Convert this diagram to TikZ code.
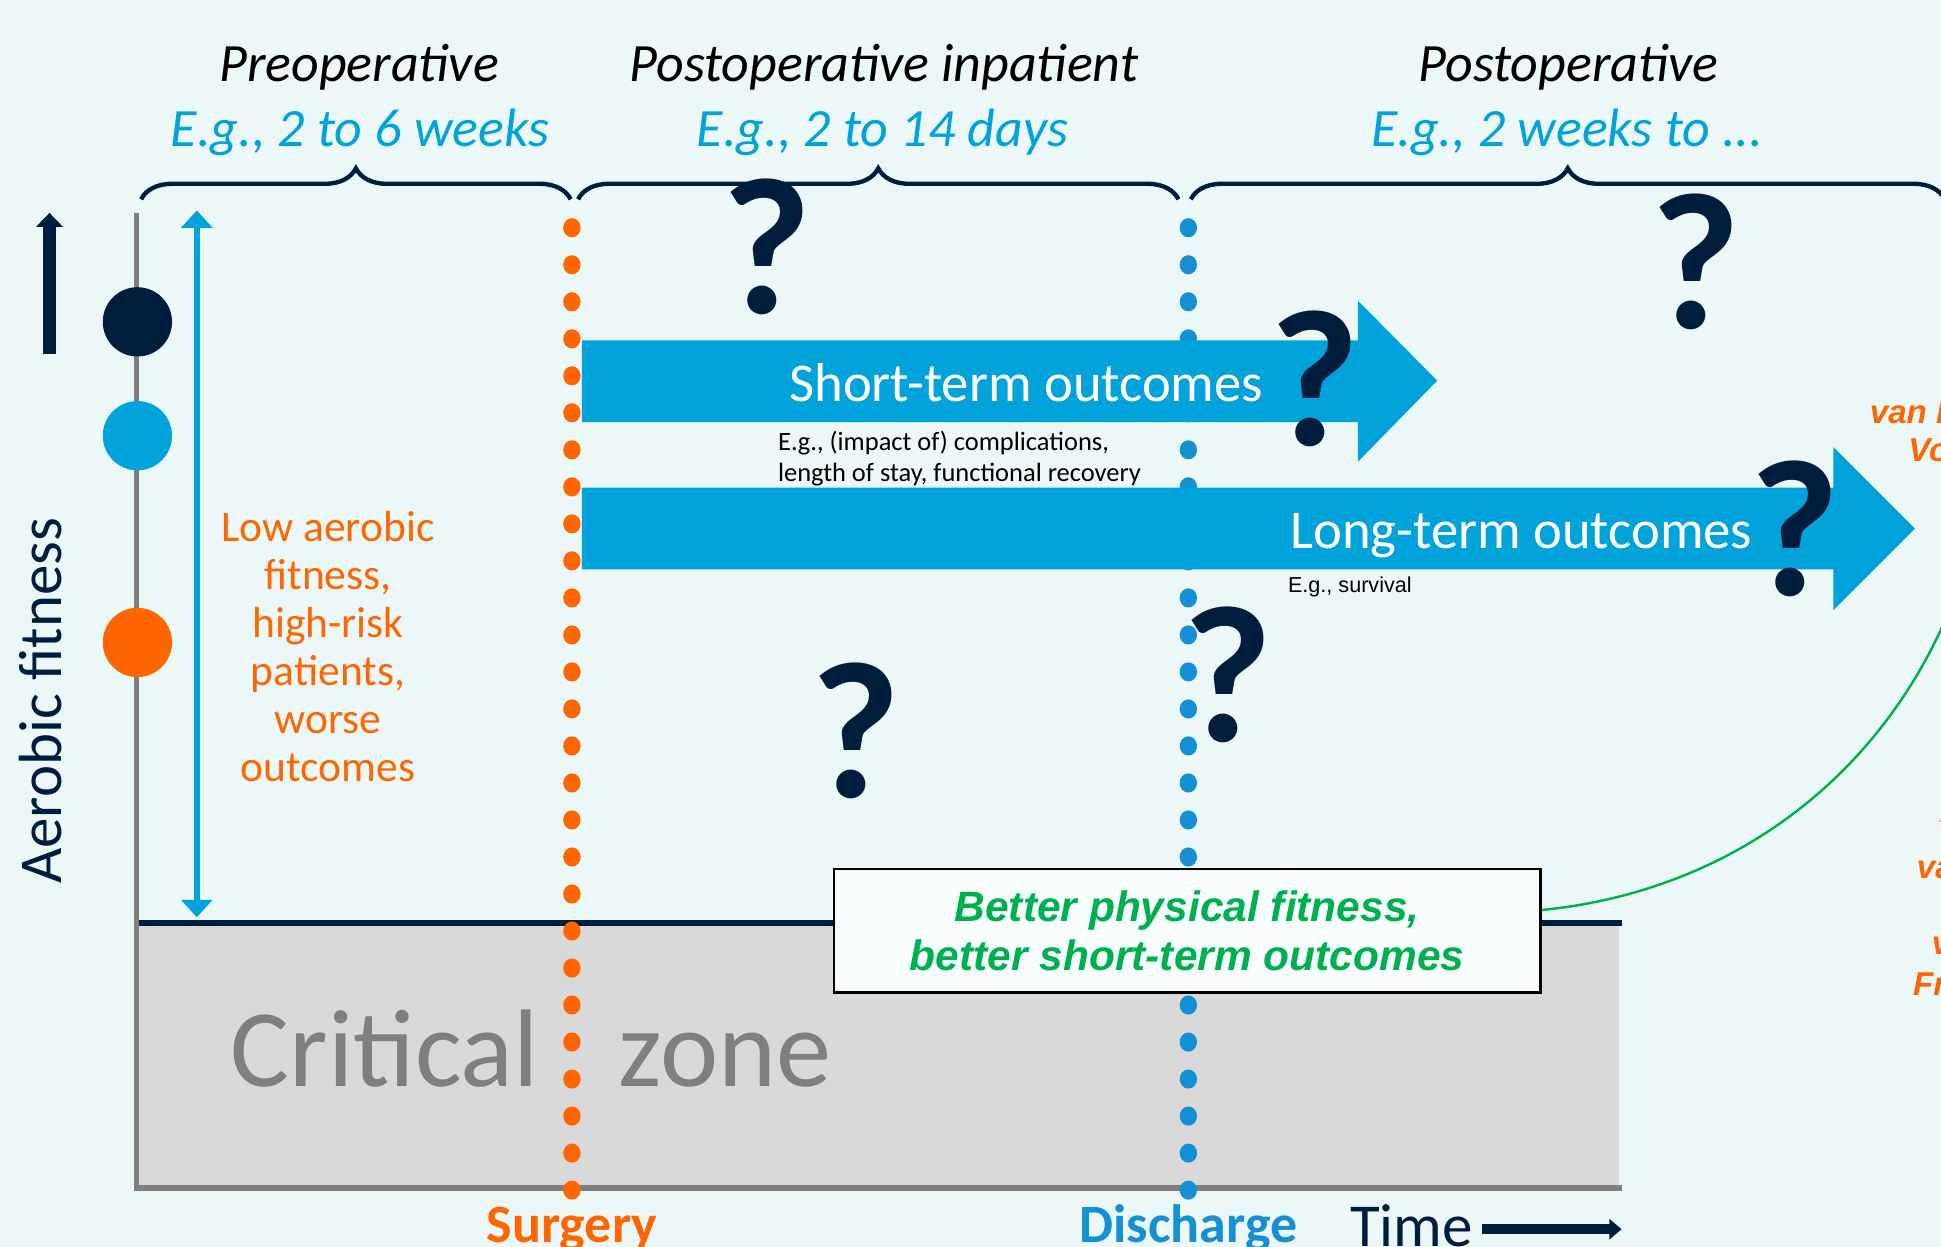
\documentclass[tikz,border=0pt]{standalone}
\usepackage{fontspec}
\setmainfont{Carlito}
\newfontfamily\arialfont{Liberation Sans}
\usetikzlibrary{arrows.meta, decorations.pathreplacing, positioning}

\definecolor{bgmint}{RGB}{236,248,247}
\definecolor{darknavy}{RGB}{0,29,61}
\definecolor{arrowcyan}{RGB}{2,162,218}
\definecolor{dotblue}{RGB}{22,144,213}
\definecolor{fitorange}{RGB}{255,102,0}
\definecolor{zonegray}{RGB}{217,217,217}
\definecolor{axisgray}{RGB}{127,127,127}
\definecolor{fitgreen}{RGB}{0,176,80}

\tikzstyle{phase} = [anchor=base, font=\fontsize{15.5}{18}\selectfont\itshape, text=black]
\tikzstyle{duration} = [phase, text=arrowcyan]
\tikzstyle{period} = [darknavy, line width=1.25pt, decorate, decoration={brace, amplitude=8.9pt}]
\tikzstyle{outcome} = [anchor=base, inner sep=0pt, font=\fontsize{15.7}{18}\selectfont, text=white]
\tikzstyle{example} = [anchor=base west, inner sep=0pt, align=left, font=\fontsize{7.6}{8.9}\selectfont]
\tikzstyle{query} = [anchor=base, inner sep=0pt, font=\fontsize{56}{60}\selectfont\bfseries, text=darknavy]
\tikzstyle{fitdot} = [circle, minimum size=19.9pt, inner sep=0pt]
\tikzstyle{timeline} = [anchor=base, inner sep=0pt, font=\fontsize{15.5}{18}\selectfont\bfseries]
\tikzstyle{source} = [anchor=base west, inner sep=0pt, font=\arialfont\fontsize{9.5}{11}\selectfont\bfseries\itshape, text=fitorange]

\begin{document}
\begin{tikzpicture}[x=0.0125cm, y=-0.0125cm]
% canvas
\fill[bgmint] (0,0) rectangle (1568,1007);
\useasboundingbox (0,0) rectangle (1568,1007);

% critical zone
\fill[zonegray] (110,745) rectangle (1308,960);
\draw[axisgray, line width=1.8pt] (108,960) -- (1310,960);
\draw[darknavy, line width=1.8pt] (112,745.5) -- (1310,745.5);
\draw[axisgray, line width=1.5pt] (110,172) -- (110,961);
\node (zone) [anchor=base west, inner sep=0pt, text=axisgray, font=\fontsize{31.7}{36}\selectfont] at (186,878) {Critical\hspace{23pt}zone};

% phases
\node (pre) [phase] at (290,66) {Preoperative};
\node (preweeks) [duration] at (291,118) {E.g., 2 to 6 weeks};
\node (inpat) [phase] at (714,66) {Postoperative inpatient};
\node (inpatdays) [duration] at (713,118) {E.g., 2 to 14 days};
\node (post) [phase] at (1267,66) {Postoperative};
\node (postweeks) [duration] at (1266,118) {E.g., 2 weeks to ...};

\draw[period] (114,161) -- (461,161);
\draw[period] (467,161) -- (952,161);
\draw[period] (962,161) -- (1571,161);

% fitness axis
\node (highfit) [fitdot, fill=darknavy] at (111,260) {};
\node (midfit) [fitdot, fill=arrowcyan] at (111,352) {};
\node (lowfit) [fitdot, fill=fitorange] at (111,519) {};

\coordinate (fitbase) at (40,286);
\coordinate (fittop) at (40,172);
\draw[darknavy, line width=3.7pt, -{Triangle[length=4pt, width=7.5pt]}] (fitbase) -- (fittop);
\node (ylabel) [rotate=90, anchor=base, inner sep=0pt, text=darknavy, font=\fontsize{17.5}{20}\selectfont] at (50,566) {Aerobic fitness};

\coordinate (rangetop) at (159,170);
\coordinate (rangebot) at (159,741);
\draw[arrowcyan, line width=1.6pt, {Triangle[length=5pt, width=8.8pt]}-{Triangle[length=5pt, width=8.8pt]}] (rangetop) -- (rangebot);
\node (lowtext) [align=center, text=fitorange, font=\fontsize{12.5}{13.8}\selectfont] at (265,522) {Low aerobic\\fitness,\\high-risk\\patients,\\worse\\outcomes};

% surgery and discharge
\foreach \k in {0,...,26} {
  \fill[fitorange] (462,184+29.9*\k) ellipse [x radius=2.5pt, y radius=2.75pt];
  \fill[dotblue] (960,184+29.9*\k) ellipse [x radius=2.5pt, y radius=2.75pt];
}

% outcome arrows
\fill[arrowcyan] (470,275) -- (1097,275) -- (1097,243) -- (1161,307.5) -- (1097,373) -- (1097,341) -- (470,341) -- cycle;
\fill[arrowcyan] (470,394) -- (1481,394) -- (1481,361) -- (1547,427) -- (1481,493) -- (1481,460) -- (470,460) -- cycle;
\node (short) [outcome] at (829,324) {Short-term outcomes};
\node (long) [outcome] at (1229,443) {Long-term outcomes};
\node (shortex) [example] at (628,389) {E.g., (impact of) complications,\\length of stay, functional recovery};
\node (longex) [example, font=\arialfont\fontsize{6.2}{7.5}\selectfont] at (1040,479) {E.g., survival};

\node (q1) [query] at (619,253) {?};
\node (q2) [query] at (1062,360) {?};
\node (q3) [query] at (1370,265) {?};
\node (q4) [query] at (1450,481) {?};
\node (q5) [query] at (992,599) {?};
\node (q6) [query] at (691,644) {?};

% fitness box
\node (fitbox) [draw=black, line width=0.8pt, fill=white!60!bgmint, minimum width=202.9pt, minimum height=35.5pt, align=center, text=fitgreen, font=\arialfont\fontsize{12.2}{14.2}\selectfont\bfseries\itshape] at (959,752) {Better physical fitness,\\better short-term outcomes};
\coordinate (curveend) at (1580,480);
\draw[fitgreen, line width=0.7pt] ([yshift=6pt]fitbox.east) .. controls (1400,720) and (1525,625) .. (curveend);

% time axis
\node (surgery) [timeline, text=fitorange] at (462,1004) {Surgery};
\node (discharge) [timeline, text=dotblue] at (960,1004) {Discharge};
\node (time) [anchor=base west, inner xsep=2.5pt, inner ysep=0pt, text=darknavy, font=\fontsize{17.5}{20}\selectfont] at (1083,1007) {Time};
\coordinate (timeend) at (1310,993);
\draw[darknavy, line width=2.9pt, -{Triangle[length=3.5pt, width=5.7pt]}] (time.east |- timeend) -- (timeend);

% references, cut at the edge
\node (refa) [source] at (1510,342) {van B};
\node (refb) [source] at (1541,373) {Vo};
\node (refc) [source] at (1565,680) {T};
\node (refd) [source] at (1548,710) {va};
\node (refe) [source] at (1560,771) {v};
\node (reff) [source] at (1545,804) {Fr};
\end{tikzpicture}
\end{document}
